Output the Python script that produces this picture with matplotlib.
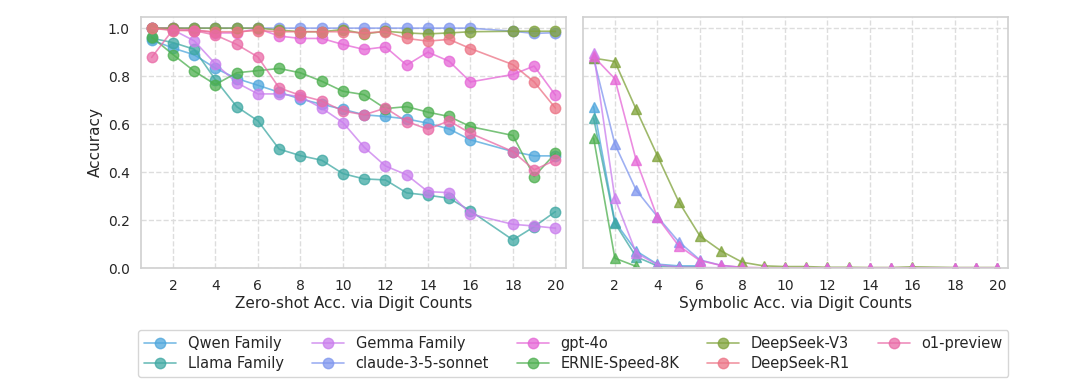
import numpy as np
import matplotlib
matplotlib.use("Agg")
import matplotlib.pyplot as plt
import seaborn as sns

sns.set_theme(style="whitegrid")
plt.rcParams['font.family'] = ['DejaVu Sans']

digits = [1, 2, 3, 4, 5, 6, 7, 8, 9, 10, 11, 12, 13, 14, 15, 16, 18, 19, 20]
nan = np.nan

models = ["Qwen Family", "Llama Family", "Gemma Family", "claude-3-5-sonnet",
          "gpt-4o", "ERNIE-Speed-8K", "DeepSeek-V3", "DeepSeek-R1", "o1-preview"]
colors = ["#4ea6dc", "#3fa8a3", "#c97ced", "#7f96ee", "#e566d6",
          "#4daf4f", "#7fa23a", "#ec7385", "#e96aa6"]

# Zero-shot accuracy
zs_qwen = [0.951, 0.917, 0.889, 0.833, 0.790, 0.762, 0.733, 0.705, 0.683, 0.662,
           0.639, 0.632, 0.622, 0.604, 0.580, 0.535, 0.486, 0.468, 0.468]
zs_llama = [0.958, 0.940, 0.912, 0.785, 0.673, 0.614, 0.496, 0.469, 0.450, 0.394,
            0.372, 0.368, 0.314, 0.304, 0.292, 0.239, 0.118, 0.173, 0.236]
zs_gemma = [1.000, 0.993, 0.947, 0.851, 0.773, 0.726, 0.726, 0.715, 0.667, 0.607,
            0.504, 0.426, 0.389, 0.319, 0.315, 0.226, 0.183, 0.176, 0.167]
zs_claude = [1.000, 1.000, 1.000, 1.000, 1.000, 1.000, 1.000, 1.000, 1.000, 1.000,
             1.000, 1.000, 1.000, 1.000, 1.000, 1.000, 0.987, 0.978, 0.981]
zs_gpt4o = [1.000, 1.000, 0.994, 0.980, 0.980, 0.998, 0.967, 0.957, 0.957, 0.932,
            0.911, 0.922, 0.846, 0.900, 0.862, 0.776, 0.807, 0.842, 0.721]
zs_ernie = [0.963, 0.890, 0.821, 0.765, 0.814, 0.823, 0.832, 0.814, 0.779, 0.737,
            0.723, 0.665, 0.673, 0.650, 0.632, 0.590, 0.553, 0.382, 0.479]
zs_v3 = [1.000, 1.000, 1.000, 1.000, 1.000, 1.000, 0.992, 0.985, 0.985, 0.994,
         0.976, 0.987, 0.980, 0.976, 0.980, 0.985, 0.987, 0.987, 0.987]
zs_r1 = [1.000, 0.990, 0.990, 0.985, 0.985, 0.990, 0.985, 0.985, 0.985, 0.985,
         0.980, 0.985, 0.957, 0.946, 0.953, 0.915, 0.848, 0.776, 0.667]
zs_o1 = [0.878, 0.993, 0.990, 0.971, 0.932, 0.880, 0.751, 0.720, 0.697, 0.655,
         0.639, 0.667, 0.611, 0.579, 0.614, 0.562, 0.486, 0.410, 0.450]

# Symbolic accuracy
sy_qwen = [0.673, 0.194, 0.072, 0.017, 0.010, 0.010, nan, nan, nan, nan,
           nan, nan, nan, nan, nan, nan, nan, nan, nan]
sy_llama = [0.625, 0.188, 0.048, 0.010, 0.005, 0.005, nan, nan, nan, nan,
            nan, nan, nan, nan, nan, nan, nan, nan, nan]
sy_gemma = [0.896, 0.292, 0.064, 0.015, 0.005, 0.003, 0.002, 0.0, 0.0, 0.0,
            0.0, 0.0, 0.0, 0.0, 0.0, 0.0, 0.0, 0.0, 0.0]
sy_claude = [0.875, 0.517, 0.326, 0.215, 0.111, 0.035, 0.012, 0.003, nan, nan,
             nan, nan, nan, nan, nan, nan, nan, nan, nan]
sy_gpt4o = [0.882, 0.789, 0.451, 0.212, 0.094, 0.032, 0.012, 0.004, 0.002, 0.002,
            0.002, 0.002, 0.002, 0.002, 0.002, 0.002, 0.002, 0.002, 0.002]
sy_ernie = [0.542, 0.042, 0.008, nan, nan, nan, nan, nan, nan, nan,
            nan, nan, nan, nan, nan, nan, nan, nan, nan]
sy_v3 = [0.875, 0.861, 0.662, 0.469, 0.278, 0.135, 0.072, 0.025, 0.010, 0.007,
         0.007, 0.004, 0.004, 0.003, 0.003, 0.006, 0.003, 0.003, 0.003]

zero_shot = [zs_qwen, zs_llama, zs_gemma, zs_claude, zs_gpt4o, zs_ernie, zs_v3, zs_r1, zs_o1]
symbolic = [sy_qwen, sy_llama, sy_claude, sy_ernie, sy_v3, sy_gemma, sy_gpt4o]
symbolic_idx = [0, 1, 3, 5, 6, 2, 4]

xticks = [2, 4, 6, 8, 10, 12, 14, 16, 18, 20]
yticks = [0.0, 0.2, 0.4, 0.6, 0.8, 1.0]

fig = plt.figure(figsize=(10.8, 3.86), dpi=100)
ax1 = fig.add_axes([0.1306, 0.305, 0.3935, 0.652])
ax2 = fig.add_axes([0.5398, 0.305, 0.3935, 0.652])

for name, col, vals in zip(models, colors, zero_shot):
    ax1.plot(digits, vals, marker='o', color=col, alpha=0.75, lw=1.2,
             markersize=7.5, label=name)

for i, vals in zip(symbolic_idx, symbolic):
    ax2.plot(digits, vals, marker='^', color=colors[i], alpha=0.75, lw=1.2,
             markersize=7.5)

for ax, xl in ((ax1, "Zero-shot Acc. via Digit Counts"), (ax2, "Symbolic Acc. via Digit Counts")):
    ax.set_xlim(0.5, 20.5)
    ax.set_ylim(0.0, 1.048)
    ax.set_xticks(xticks)
    ax.set_yticks(yticks)
    ax.grid(True, linestyle='--', color='#dddddd', lw=1.0)
    ax.set_xlabel(xl, fontsize=11, labelpad=2)
    ax.tick_params(axis='both', labelsize=10, pad=2)
    for s in ax.spines.values():
        s.set_color('#d0d0d0')
        s.set_linewidth(1.2)

ax1.set_ylabel("Accuracy", fontsize=11)
ax2.set_yticklabels([])

handles, labels = ax1.get_legend_handles_labels()
leg = fig.legend(handles, labels, loc='lower center', bbox_to_anchor=(0.531, 0.004),
                 ncol=5, fontsize=10.5, frameon=True, handlelength=2.2,
                 columnspacing=1.9, borderpad=0.4, labelspacing=0.35)
leg.get_frame().set_edgecolor('#cccccc')

fig.savefig("out.png", dpi=100)
